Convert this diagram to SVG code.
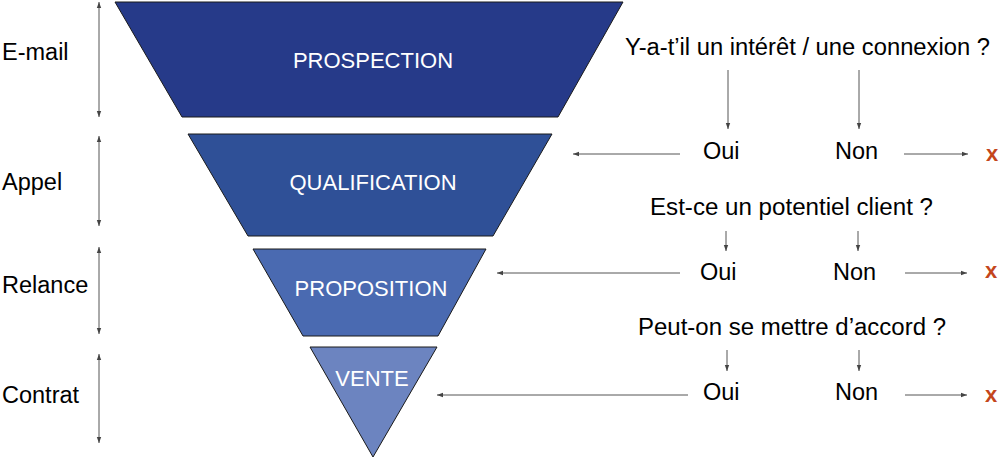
<svg xmlns="http://www.w3.org/2000/svg" width="1001" height="459" viewBox="0 0 1001 459">
<defs>
<style>
.t{font-family:"Liberation Sans",Arial,sans-serif;fill:#000}
.w{font-family:"Liberation Sans",Arial,sans-serif;fill:#fff;font-size:22px;text-anchor:middle}
.q{font-size:23.5px}
.a{font-size:23.5px}
.x{font-family:"Liberation Sans",Arial,sans-serif;fill:#C4461C;font-weight:bold;font-size:22px}
.ln{stroke:#555;stroke-width:1;fill:none}
.sh{stroke:#1a1a1a;stroke-width:1}
</style>
<marker id="ah" viewBox="0 0 6 6" refX="6" refY="3" markerWidth="6" markerHeight="6" orient="auto-start-reverse" markerUnits="userSpaceOnUse">
<path d="M0,0.8 L6,3 L0,5.2 z" fill="#444"/>
</marker>
</defs>
<g id="funnel-prospection">
<polygon class="sh" points="115,2 623,2 558,117 182,117" fill="#263A89"/>
<text class="w" x="373" y="68">PROSPECTION</text>
</g>
<g id="funnel-qualification">
<polygon class="sh" points="188,134 552,134 493,236 248,236" fill="#2F5097"/>
<text class="w" x="373" y="190">QUALIFICATION</text>
</g>
<g id="funnel-proposition">
<polygon class="sh" points="253,249 486,249 438,336 303,336" fill="#4A6AB1"/>
<text class="w" x="371" y="296">PROPOSITION</text>
</g>
<g id="funnel-vente">
<polygon class="sh" points="310,347 437,347 373,457" fill="#6C84C0"/>
<text class="w" x="372" y="386">VENTE</text>
</g>
<g id="labels-left">
<text class="t a" x="2" y="60">E-mail</text>
<text class="t a" x="2" y="190">Appel</text>
<text class="t a" x="2" y="293">Relance</text>
<text class="t a" x="2" y="403">Contrat</text>
</g>
<g id="questions">
<text class="t q" x="625" y="55" textLength="365" lengthAdjust="spacingAndGlyphs">Y-a-t’il un intérêt / une connexion ?</text>
<text class="t q" x="650" y="215" textLength="283" lengthAdjust="spacingAndGlyphs">Est-ce un potentiel client ?</text>
<text class="t q" x="638" y="335" textLength="308" lengthAdjust="spacingAndGlyphs">Peut-on se mettre d’accord ?</text>
</g>
<g id="answers">
<text class="t a" x="703" y="159">Oui</text>
<text class="t a" x="835" y="159">Non</text>
<text class="x" x="986" y="161">x</text>
<text class="t a" x="700" y="280">Oui</text>
<text class="t a" x="833" y="280">Non</text>
<text class="x" x="985" y="278">x</text>
<text class="t a" x="703" y="400">Oui</text>
<text class="t a" x="835" y="400">Non</text>
<text class="x" x="985" y="402">x</text>
</g>
<g id="connectors">
<line class="ln" x1="99" y1="2" x2="99" y2="117" marker-start="url(#ah)" marker-end="url(#ah)"/>
<line class="ln" x1="99" y1="136" x2="99" y2="226" marker-start="url(#ah)" marker-end="url(#ah)"/>
<line class="ln" x1="99" y1="247" x2="99" y2="334" marker-start="url(#ah)" marker-end="url(#ah)"/>
<line class="ln" x1="99" y1="354" x2="99" y2="443" marker-start="url(#ah)" marker-end="url(#ah)"/>
<line class="ln" x1="728" y1="70" x2="728" y2="129" marker-end="url(#ah)"/>
<line class="ln" x1="859" y1="70" x2="859" y2="129" marker-end="url(#ah)"/>
<line class="ln" x1="680" y1="154" x2="573" y2="154" marker-end="url(#ah)"/>
<line class="ln" x1="904" y1="154" x2="968" y2="154" marker-end="url(#ah)"/>
<line class="ln" x1="726" y1="231" x2="726" y2="251" marker-end="url(#ah)"/>
<line class="ln" x1="858" y1="231" x2="858" y2="251" marker-end="url(#ah)"/>
<line class="ln" x1="680" y1="273" x2="497" y2="273" marker-end="url(#ah)"/>
<line class="ln" x1="905" y1="273" x2="967" y2="273" marker-end="url(#ah)"/>
<line class="ln" x1="727" y1="350" x2="727" y2="371" marker-end="url(#ah)"/>
<line class="ln" x1="859" y1="350" x2="859" y2="371" marker-end="url(#ah)"/>
<line class="ln" x1="688" y1="395" x2="437" y2="395" marker-end="url(#ah)"/>
<line class="ln" x1="905" y1="395" x2="967" y2="395" marker-end="url(#ah)"/>
</g>
</svg>
